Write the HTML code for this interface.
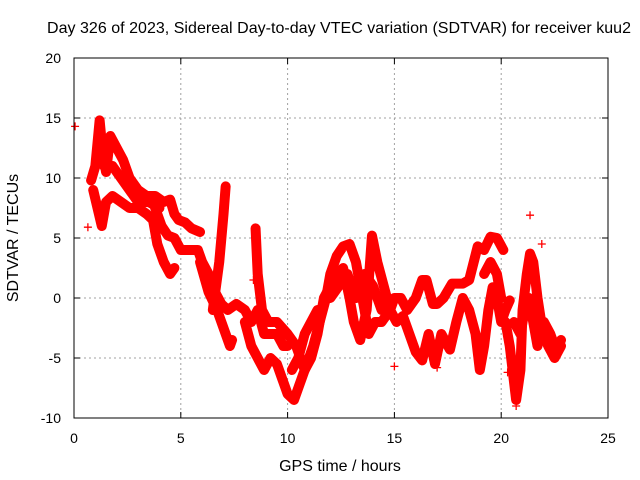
<!DOCTYPE html>
<html><head><meta charset="utf-8"><style>
body{margin:0;background:#fff;}
svg{display:block;font-family:"Liberation Sans",sans-serif;}
</style></head><body>
<svg id="chart" width="640" height="480" xmlns="http://www.w3.org/2000/svg">
<rect width="640" height="480" fill="#fff"/>
<text x="339" y="33" font-size="16" text-anchor="middle" textLength="584">Day 326 of 2023, Sidereal Day-to-day VTEC variation (SDTVAR) for receiver kuu2</text>
<text x="340" y="471" font-size="16" text-anchor="middle">GPS time / hours</text>
<text x="18" y="238" font-size="16" text-anchor="middle" transform="rotate(-90 18 238)">SDTVAR / TECUs</text>
<g id="grid"></g>
<g id="marks"></g>
<rect x="74" y="58" width="534" height="360" fill="none" stroke="#000" stroke-width="1"/>
<g id="axes"></g>
</svg>
<script>
const xTicks=[0,5,10,15,20,25];
const yTicks=[-10,-5,0,5,10,15,20];
const trackA=[[0.8,9.8],[1.0,11],[1.2,14.8],[1.35,12],[1.5,10.5],[1.7,13.5],[2.0,12.5],[2.3,11.5],[2.6,10],[3.0,9],[3.4,8.5],[3.8,8.5],[4.2,8],[4.5,8.2],[4.7,7],[4.9,6.5],[5.2,6.3],[5.5,5.8],[5.9,5.5]];
const trackB=[[0.9,9],[1.1,7.5],[1.3,6],[1.5,8],[1.8,8.5],[2.2,8],[2.6,7.5],[3.0,7.5],[3.4,7],[3.7,6.5],[3.9,4.5],[4.2,3],[4.5,2],[4.7,2.5]];
const trackC=[[3.8,7.5],[4.1,6],[4.4,5.2],[4.7,5],[5.0,4],[5.4,4],[5.8,4],[6.0,3],[6.3,2],[6.6,0.5],[6.9,-0.5],[7.2,-1],[7.6,-0.5],[8.0,-1],[8.3,-2],[8.6,-1],[8.9,-3],[9.2,-3],[9.5,-3],[9.8,-4],[10.0,-4]];
const trackD=[[5.9,3],[6.3,0.5],[6.7,-1],[7.0,-2.5],[7.3,-4],[7.4,-3.5]];
const trackE=[[6.5,-1],[6.8,3],[7.0,7],[7.1,9.3]];
const trackF=[[8.0,-2],[8.3,-4],[8.6,-5],[8.9,-6],[9.2,-5],[9.5,-5.5],[9.8,-7],[10.0,-8],[10.3,-8.5],[10.6,-7],[10.9,-5.5],[11.2,-4],[11.5,-2],[11.8,0],[12.0,2],[12.3,3.5],[12.6,4.3],[12.9,4.5],[13.2,3],[13.4,1],[13.6,-1],[13.8,-3],[14.1,-2],[14.4,-2],[14.8,-1],[15.1,-2],[15.4,-1.5],[15.7,-3],[16.0,-4.5],[16.3,-5.2],[16.6,-3],[16.9,-5.5],[17.2,-3],[17.6,-4.3],[17.9,-2],[18.2,0],[18.5,-1],[18.8,-3],[19.0,-6],[19.2,-4],[19.4,-1],[19.6,0.9],[19.8,0],[20.0,-2],[20.2,-1],[20.4,-0.2]];
const trackG=[[8.5,5.8],[8.6,2],[8.8,-1],[9.1,-2],[9.5,-2],[10.0,-3],[10.4,-4],[10.8,-6],[11.1,-5],[11.4,-3],[11.7,0],[12.0,1],[12.3,2],[12.6,2.5],[12.9,0],[13.1,-2],[13.4,-3.5],[13.7,-1],[13.95,5.2],[14.2,3],[14.5,1],[14.8,-1],[15.0,0],[15.3,0],[15.6,-1],[16.0,0],[16.3,1.5],[16.5,1.5],[16.8,-0.5],[17.0,-0.5],[17.3,0],[17.7,1.2],[18.2,1.2],[18.5,1.5],[18.9,4.3],[19.2,4],[19.5,5.1],[19.8,5],[20.1,4]];
const trackH=[[20.2,-2],[20.4,-4],[20.6,-7],[20.7,-8.5],[20.9,-6],[21.0,-1],[21.2,2],[21.35,3.7],[21.5,3],[21.7,0],[21.95,-2.9],[22.2,-4],[22.5,-5],[22.8,-4]];
const trackI=[[20.6,-2],[20.9,-3],[21.1,-1],[21.3,0],[21.5,-2],[21.7,-4],[22.0,-2],[22.3,-3],[22.6,-4.5],[22.8,-3.5]];
const trackJ=[[1.4,11],[1.8,11],[2.2,10],[2.6,9],[3.0,8],[3.5,8],[4.0,7.5]];
const trackK=[[12.0,0],[12.4,1],[12.8,2],[13.2,0],[13.6,2],[14.0,1],[14.4,-1]];
const trackL=[[19.2,2],[19.5,3],[19.8,2],[20.0,0]];
const trackM=[[10.2,-6],[10.5,-5],[10.8,-3],[11.1,-2],[11.4,-1]];
const singles=[[0.05,14.3],[0.65,5.9],[21.35,6.9],[21.9,4.5],[15.0,-5.7],[20.3,-6.2],[20.7,-9],[17.0,-5.8],[8.4,1.5]];
const tracks=[trackA,trackB,trackC,trackD,trackE,trackF,trackG,trackH,trackI,trackJ,trackK,trackL,trackM];
const X0=74,X1=608,Y0=418,Y1=58;
const xs=t=>X0+(t-0)/(25-0)*(X1-X0);
const ys=v=>Y0-(v+10)/(30)*(Y0-Y1);
const NS="http://www.w3.org/2000/svg";
const grid=document.getElementById('grid'),axes=document.getElementById('axes'),marks=document.getElementById('marks');
function mk(tag,attrs,parent){const e=document.createElementNS(NS,tag);for(const k in attrs)e.setAttribute(k,attrs[k]);parent.appendChild(e);return e;}
xTicks.forEach(t=>{const x=xs(t);
 if(t>0&&t<25){const g=mk('line',{x1:x,x2:x,y1:Y1,y2:Y0,stroke:'#a0a0a0','stroke-dasharray':'2,3'},grid);}
 const a=mk('line',{x1:x,x2:x,y1:Y0,y2:Y0-6,stroke:'#000'},axes);
 const b=mk('line',{x1:x,x2:x,y1:Y1,y2:Y1+6,stroke:'#000'},axes);
 const l=mk('text',{x:x,y:443,'font-size':14,'text-anchor':'middle'},axes);l.textContent=t;});
yTicks.forEach(v=>{const y=ys(v);
 if(v>-10&&v<20){const g=mk('line',{x1:X0,x2:X1,y1:y,y2:y,stroke:'#a0a0a0','stroke-dasharray':'2,3'},grid);}
 const a=mk('line',{x1:X0,x2:X0+6,y1:y,y2:y,stroke:'#000'},axes);
 const b=mk('line',{x1:X1,x2:X1-6,y1:y,y2:y,stroke:'#000'},axes);
 const l=mk('text',{x:61,y:y+5,'font-size':14,'text-anchor':'end'},axes);l.textContent=v;});
function plus(t,v){const x=xs(t),y=ys(v);const p=mk('path',{d:`M${x-4} ${y}H${x+4}M${x} ${y-4}V${y+4}`,stroke:'#f00','stroke-width':1.3},marks);}
tracks.forEach(tr=>{
 const d=tr.map((p,i)=>(i?'L':'M')+xs(p[0])+' '+ys(p[1])).join('');
 const pl=mk('path',{d:d,fill:'none',stroke:'#f00','stroke-width':10,'stroke-linejoin':'round','stroke-linecap':'round'},marks);
 
 
 tr.forEach(p=>plus(p[0],p[1]));});
singles.forEach(p=>plus(p[0],p[1]));
</script>
</body></html>
